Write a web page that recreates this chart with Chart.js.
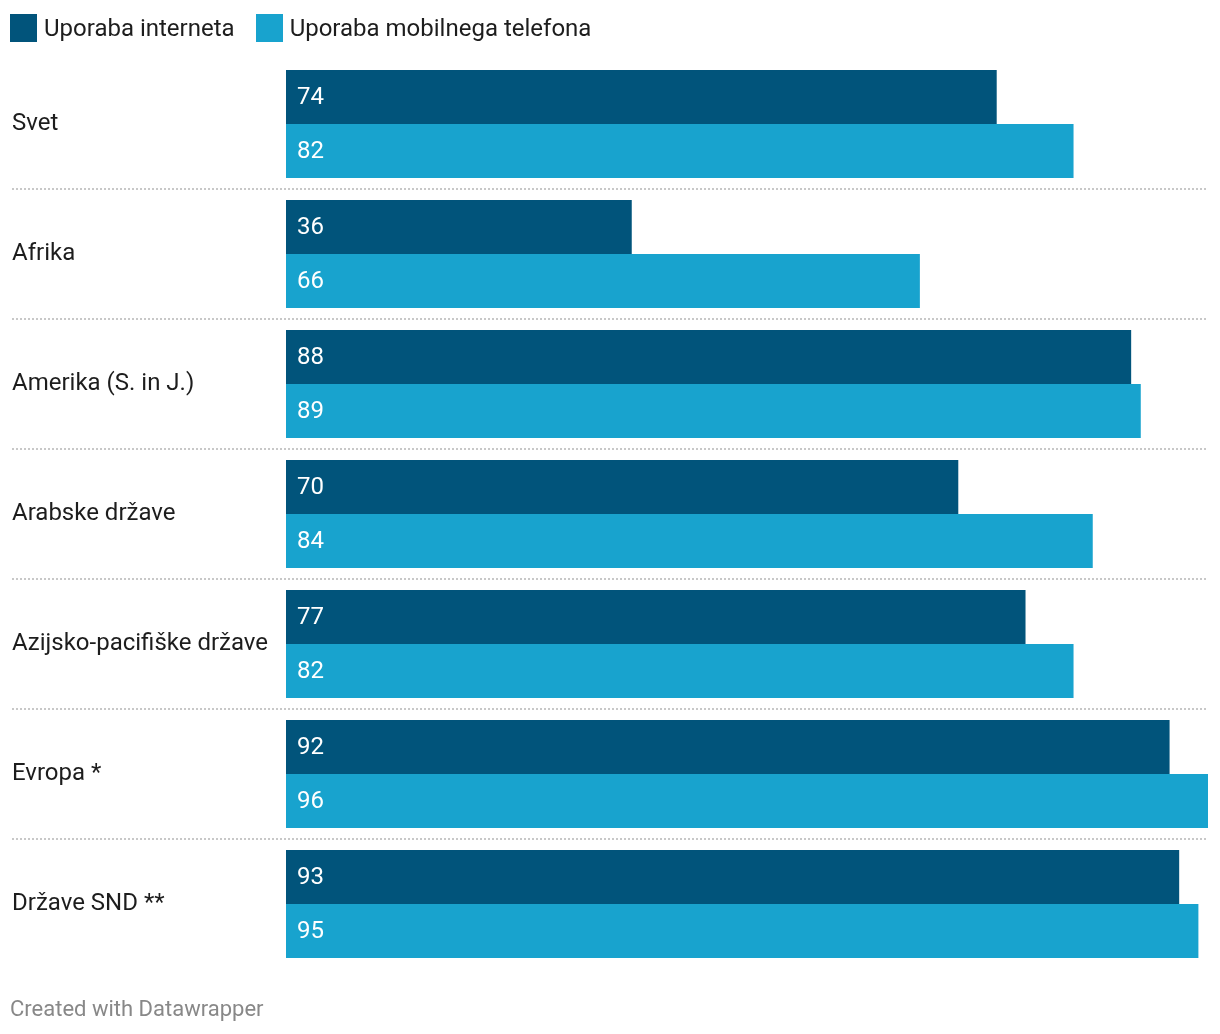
<!DOCTYPE html>
<html>
<head>
<meta charset="utf-8">
<script src="https://cdn.jsdelivr.net/npm/chart.js@4"></script>
<style>
  body { margin: 0; background: #fff; font-family: Roboto, sans-serif; }
  .wrap { position: relative; width: 1220px; height: 1034px; }
  .legend { position: absolute; left: 10px; top: 14px; display: flex; align-items: center; font-size: 24px; color: #1d1d1d; }
  .legend .sw { width: 27px; height: 28px; margin-right: 7px; }
  .legend .item { display: flex; align-items: center; margin-right: 21px; }
  .footer { position: absolute; left: 10px; top: 996px; font-size: 22px; color: #888; }
  canvas { position: absolute; left: 0; top: 0; }
</style>
</head>
<body>
<div class="wrap">
  <canvas id="barChart"></canvas>
  <div class="legend" id="legend"></div>
  <div class="footer">Created with Datawrapper</div>
</div>
<script>
const categories = ['Svet', 'Afrika', 'Amerika (S. in J.)', 'Arabske države', 'Azijsko-pacifiške države', 'Evropa *', 'Države SND **'];
const internetValues = [74, 36, 88, 70, 77, 92, 93];
const mobileValues = [82, 66, 89, 84, 82, 96, 95];
const seriesNames = ['Uporaba interneta', 'Uporaba mobilnega telefona'];
const seriesColors = ['#01547b', '#18a3ce'];

function buildLegend() {
  const legend = document.getElementById('legend');
  seriesNames.forEach((name, i) => {
    const item = document.createElement('div');
    item.className = 'item';
    item.innerHTML = '<div class="sw" style="background:' + seriesColors[i] + '"></div><span>' + name + '</span>';
    legend.appendChild(item);
  });
}

const valueLabels = {
  id: 'valueLabels',
  afterDatasetsDraw(chart) {
    const ctx = chart.ctx;
    ctx.save();
    ctx.fillStyle = '#fff';
    ctx.font = '24px Roboto';
    ctx.textAlign = 'left';
    ctx.textBaseline = 'middle';
    chart.data.datasets.forEach((ds, di) => {
      chart.getDatasetMeta(di).data.forEach((bar, i) => {
        ctx.fillText(ds.data[i], bar.base + 11, bar.y + 1);
      });
    });
    ctx.restore();
  }
};

const separators = {
  id: 'separators',
  beforeDatasetsDraw(chart) {
    const ctx = chart.ctx;
    const y = chart.scales.y;
    ctx.save();
    ctx.strokeStyle = '#c8c8c8';
    ctx.lineWidth = 2;
    ctx.setLineDash([2, 2]);
    for (let i = 0; i < categories.length - 1; i++) {
      const py = Math.round((y.getPixelForValue(i) + y.getPixelForValue(i + 1)) / 2);
      ctx.beginPath();
      ctx.moveTo(12, py);
      ctx.lineTo(chart.chartArea.right, py);
      ctx.stroke();
    }
    ctx.restore();
  }
};

function initializeChart() {
  buildLegend();
  const canvas = document.getElementById('barChart');
  canvas.width = 1220;
  canvas.height = 1034;
  new Chart(canvas, {
    type: 'bar',
    data: {
      labels: categories,
      datasets: [
        { label: seriesNames[0], data: internetValues, backgroundColor: seriesColors[0] },
        { label: seriesNames[1], data: mobileValues, backgroundColor: seriesColors[1] }
      ]
    },
    options: {
      indexAxis: 'y',
      responsive: false,
      animation: false,
      devicePixelRatio: 1,
      categoryPercentage: 108 / 130,
      barPercentage: 1,
      layout: { padding: { left: 12, right: 12, top: 59, bottom: 65 } },
      plugins: { legend: { display: false }, tooltip: { enabled: false } },
      scales: {
        x: { display: false, min: 0, max: 96 },
        y: {
          grid: { display: false },
          border: { display: false },
          afterFit(scale) { scale.width = 274; },
          ticks: {
            crossAlign: 'far',
            padding: 0,
            color: '#1d1d1d',
            font: { family: 'Roboto', size: 24 }
          }
        }
      }
    },
    plugins: [separators, valueLabels]
  });
}

document.addEventListener('DOMContentLoaded', initializeChart);
</script>
</body>
</html>
